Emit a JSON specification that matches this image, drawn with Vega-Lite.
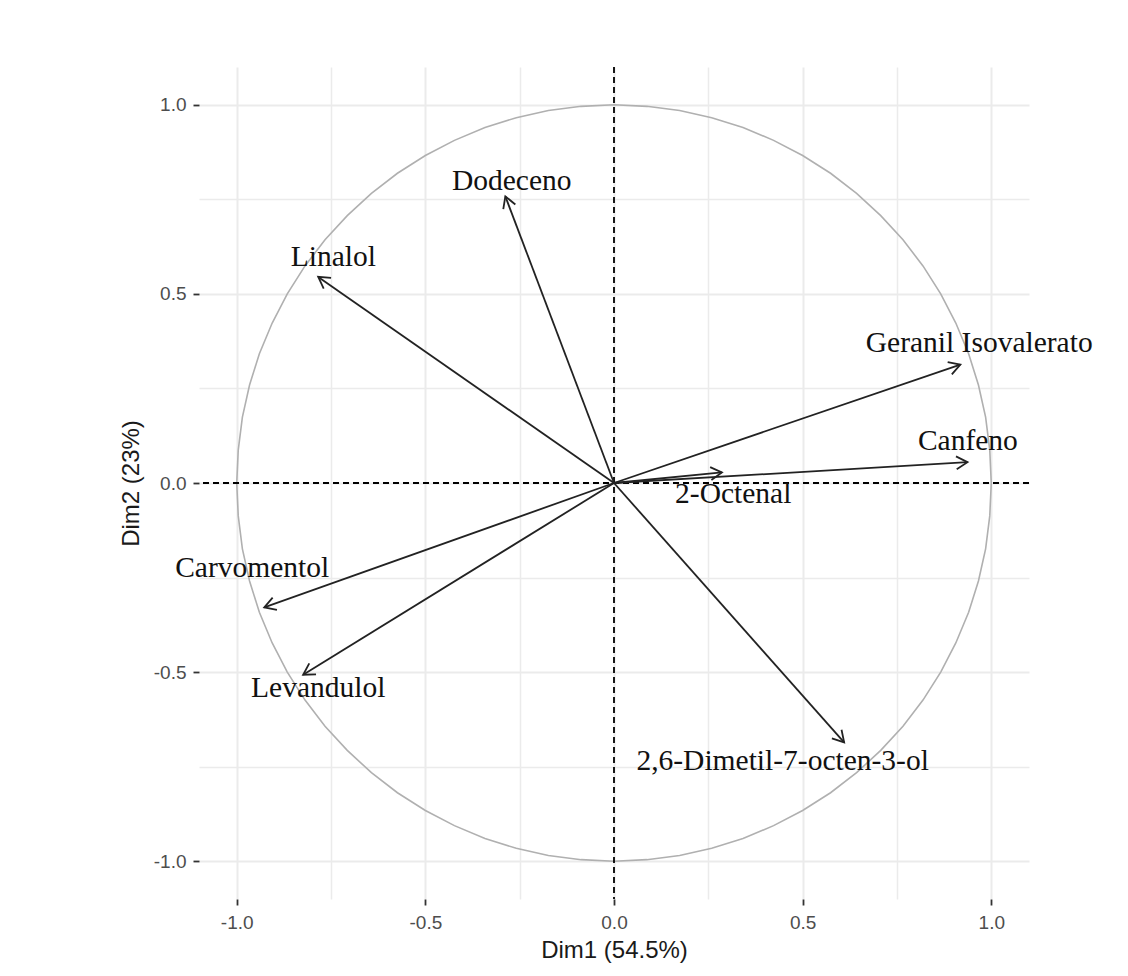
{
  "$schema": "https://vega.github.io/schema/vega-lite/v6.json",
  "width": 830,
  "height": 832,
  "autosize": {"type": "none"},
  "padding": {"left": 199, "top": 67, "right": 99, "bottom": 77},
  "background": "white",
  "config": {
    "view": {"stroke": null},
    "axis": {
      "domain": false,
      "labelFont": "Liberation Sans",
      "labelFontSize": 19,
      "labelColor": "#4D4D4D",
      "titleFont": "Liberation Sans",
      "titleFontSize": 24,
      "titleFontWeight": "normal",
      "titleColor": "#1A1A1A",
      "tickColor": "#333333",
      "tickSize": 6,
      "tickWidth": 1.8,
      "gridColor": "#EBEBEB",
      "labelFlush": false,
      "labelOverlap": false,
      "labelBound": false
    }
  },
  "datasets": {
    "circle": [
      {"i": 0, "cx": 1, "cy": 0}, {"i": 1, "cx": 0.996, "cy": 0.087}, {"i": 2, "cx": 0.985, "cy": 0.174}, {"i": 3, "cx": 0.966, "cy": 0.259},
      {"i": 4, "cx": 0.94, "cy": 0.342}, {"i": 5, "cx": 0.906, "cy": 0.423}, {"i": 6, "cx": 0.866, "cy": 0.5}, {"i": 7, "cx": 0.819, "cy": 0.574},
      {"i": 8, "cx": 0.766, "cy": 0.643}, {"i": 9, "cx": 0.707, "cy": 0.707}, {"i": 10, "cx": 0.643, "cy": 0.766}, {"i": 11, "cx": 0.574, "cy": 0.819},
      {"i": 12, "cx": 0.5, "cy": 0.866}, {"i": 13, "cx": 0.423, "cy": 0.906}, {"i": 14, "cx": 0.342, "cy": 0.94}, {"i": 15, "cx": 0.259, "cy": 0.966},
      {"i": 16, "cx": 0.174, "cy": 0.985}, {"i": 17, "cx": 0.087, "cy": 0.996}, {"i": 18, "cx": 0, "cy": 1},
      {"i": 19, "cx": -0.087, "cy": 0.996}, {"i": 20, "cx": -0.174, "cy": 0.985}, {"i": 21, "cx": -0.259, "cy": 0.966}, {"i": 22, "cx": -0.342, "cy": 0.94},
      {"i": 23, "cx": -0.423, "cy": 0.906}, {"i": 24, "cx": -0.5, "cy": 0.866}, {"i": 25, "cx": -0.574, "cy": 0.819}, {"i": 26, "cx": -0.643, "cy": 0.766},
      {"i": 27, "cx": -0.707, "cy": 0.707}, {"i": 28, "cx": -0.766, "cy": 0.643}, {"i": 29, "cx": -0.819, "cy": 0.574}, {"i": 30, "cx": -0.866, "cy": 0.5},
      {"i": 31, "cx": -0.906, "cy": 0.423}, {"i": 32, "cx": -0.94, "cy": 0.342}, {"i": 33, "cx": -0.966, "cy": 0.259}, {"i": 34, "cx": -0.985, "cy": 0.174},
      {"i": 35, "cx": -0.996, "cy": 0.087}, {"i": 36, "cx": -1, "cy": 0},
      {"i": 37, "cx": -0.996, "cy": -0.087}, {"i": 38, "cx": -0.985, "cy": -0.174}, {"i": 39, "cx": -0.966, "cy": -0.259}, {"i": 40, "cx": -0.94, "cy": -0.342},
      {"i": 41, "cx": -0.906, "cy": -0.423}, {"i": 42, "cx": -0.866, "cy": -0.5}, {"i": 43, "cx": -0.819, "cy": -0.574}, {"i": 44, "cx": -0.766, "cy": -0.643},
      {"i": 45, "cx": -0.707, "cy": -0.707}, {"i": 46, "cx": -0.643, "cy": -0.766}, {"i": 47, "cx": -0.574, "cy": -0.819}, {"i": 48, "cx": -0.5, "cy": -0.866},
      {"i": 49, "cx": -0.423, "cy": -0.906}, {"i": 50, "cx": -0.342, "cy": -0.94}, {"i": 51, "cx": -0.259, "cy": -0.966}, {"i": 52, "cx": -0.174, "cy": -0.985},
      {"i": 53, "cx": -0.087, "cy": -0.996}, {"i": 54, "cx": 0, "cy": -1},
      {"i": 55, "cx": 0.087, "cy": -0.996}, {"i": 56, "cx": 0.174, "cy": -0.985}, {"i": 57, "cx": 0.259, "cy": -0.966}, {"i": 58, "cx": 0.342, "cy": -0.94},
      {"i": 59, "cx": 0.423, "cy": -0.906}, {"i": 60, "cx": 0.5, "cy": -0.866}, {"i": 61, "cx": 0.574, "cy": -0.819}, {"i": 62, "cx": 0.643, "cy": -0.766},
      {"i": 63, "cx": 0.707, "cy": -0.707}, {"i": 64, "cx": 0.766, "cy": -0.643}, {"i": 65, "cx": 0.819, "cy": -0.574}, {"i": 66, "cx": 0.866, "cy": -0.5},
      {"i": 67, "cx": 0.906, "cy": -0.423}, {"i": 68, "cx": 0.94, "cy": -0.342}, {"i": 69, "cx": 0.966, "cy": -0.259}, {"i": 70, "cx": 0.985, "cy": -0.174},
      {"i": 71, "cx": 0.996, "cy": -0.087}, {"i": 72, "cx": 1, "cy": 0}
    ],
    "vars": [
      {"name": "Dodeceno", "x": -0.288, "y": 0.758, "lx": -0.271, "ly": 0.775},
      {"name": "Linalol", "x": -0.784, "y": 0.545, "lx": -0.744, "ly": 0.574},
      {"name": "Geranil Isovalerato", "x": 0.918, "y": 0.313, "lx": 0.968, "ly": 0.347},
      {"name": "Canfeno", "x": 0.937, "y": 0.055, "lx": 0.938, "ly": 0.088},
      {"name": "2-Octenal", "x": 0.286, "y": 0.028, "lx": 0.316, "ly": -0.053},
      {"name": "Carvomentol", "x": -0.927, "y": -0.329, "lx": -0.959, "ly": -0.248},
      {"name": "Levandulol", "x": -0.824, "y": -0.507, "lx": -0.784, "ly": -0.565},
      {"name": "2,6-Dimetil-7-octen-3-ol", "x": 0.61, "y": -0.686, "lx": 0.447, "ly": -0.76}
    ],
    "zero": [{"z": 0}]
  },
  "layer": [
    {
      "data": {"name": "circle"},
      "mark": {"type": "line", "color": "#B0B0B0", "strokeWidth": 1.6, "interpolate": "linear"},
      "encoding": {
        "x": {
          "field": "cx", "type": "quantitative",
          "scale": {"domain": [-1.1, 1.1], "nice": false, "zero": false},
          "axis": {
            "title": "Dim1 (54.5%)",
            "values": [-1, -0.75, -0.5, -0.25, 0, 0.25, 0.5, 0.75, 1],
            "labelExpr": "abs(datum.value*2-round(datum.value*2))<0.01 ? replace(format(datum.value, '.1f'), '\u2212', '-') : ''",
            "tickOpacity": {"condition": {"test": "abs(datum.value*2-round(datum.value*2))>0.01", "value": 0}, "value": 1},
            "gridWidth": {"condition": {"test": "abs(datum.value*2-round(datum.value*2))>0.01", "value": 1.5}, "value": 2},
            "labelPadding": 8,
            "titlePadding": 6
          }
        },
        "y": {
          "field": "cy", "type": "quantitative",
          "scale": {"domain": [-1.1, 1.1], "nice": false, "zero": false},
          "axis": {
            "title": "Dim2 (23%)",
            "values": [-1, -0.75, -0.5, -0.25, 0, 0.25, 0.5, 0.75, 1],
            "labelExpr": "abs(datum.value*2-round(datum.value*2))<0.01 ? replace(format(datum.value, '.1f'), '\u2212', '-') : ''",
            "tickOpacity": {"condition": {"test": "abs(datum.value*2-round(datum.value*2))>0.01", "value": 0}, "value": 1},
            "gridWidth": {"condition": {"test": "abs(datum.value*2-round(datum.value*2))>0.01", "value": 1.5}, "value": 2},
            "labelPadding": 7,
            "titlePadding": 10
          }
        },
        "order": {"field": "i", "type": "quantitative"}
      }
    },
    {
      "data": {"name": "zero"},
      "mark": {"type": "rule", "color": "#000000", "strokeWidth": 1.8, "strokeDash": [6, 4]},
      "encoding": {"x": {"field": "z", "type": "quantitative", "title": "Dim1 (54.5%)"}}
    },
    {
      "data": {"name": "zero"},
      "mark": {"type": "rule", "color": "#000000", "strokeWidth": 1.8, "strokeDash": [6, 4]},
      "encoding": {"y": {"field": "z", "type": "quantitative", "title": "Dim2 (23%)"}}
    },
    {
      "data": {"name": "vars"},
      "mark": {"type": "rule", "color": "#222222", "strokeWidth": 1.8},
      "encoding": {
        "x": {"field": "x", "type": "quantitative", "title": "Dim1 (54.5%)"},
        "y": {"field": "y", "type": "quantitative", "title": "Dim2 (23%)"},
        "x2": {"datum": 0},
        "y2": {"datum": 0}
      }
    },
    {
      "data": {"name": "vars"},
      "mark": {
        "type": "point",
        "shape": "M -1 -0.577 L 0 0 L -1 0.577",
        "filled": false,
        "color": "#222222",
        "strokeWidth": 1.8,
        "size": 500,
        "opacity": 1,
        "angle": {"expr": "-atan2(datum.y, datum.x)*180/PI"}
      },
      "encoding": {
        "x": {"field": "x", "type": "quantitative", "title": "Dim1 (54.5%)"},
        "y": {"field": "y", "type": "quantitative", "title": "Dim2 (23%)"}
      }
    },
    {
      "data": {"name": "vars"},
      "mark": {"type": "text", "font": "Liberation Serif", "fontSize": 29.5, "align": "center", "baseline": "alphabetic", "color": "#111111"},
      "encoding": {
        "x": {"field": "lx", "type": "quantitative", "title": "Dim1 (54.5%)"},
        "y": {"field": "ly", "type": "quantitative", "title": "Dim2 (23%)"},
        "text": {"field": "name", "type": "nominal"}
      }
    }
  ]
}
